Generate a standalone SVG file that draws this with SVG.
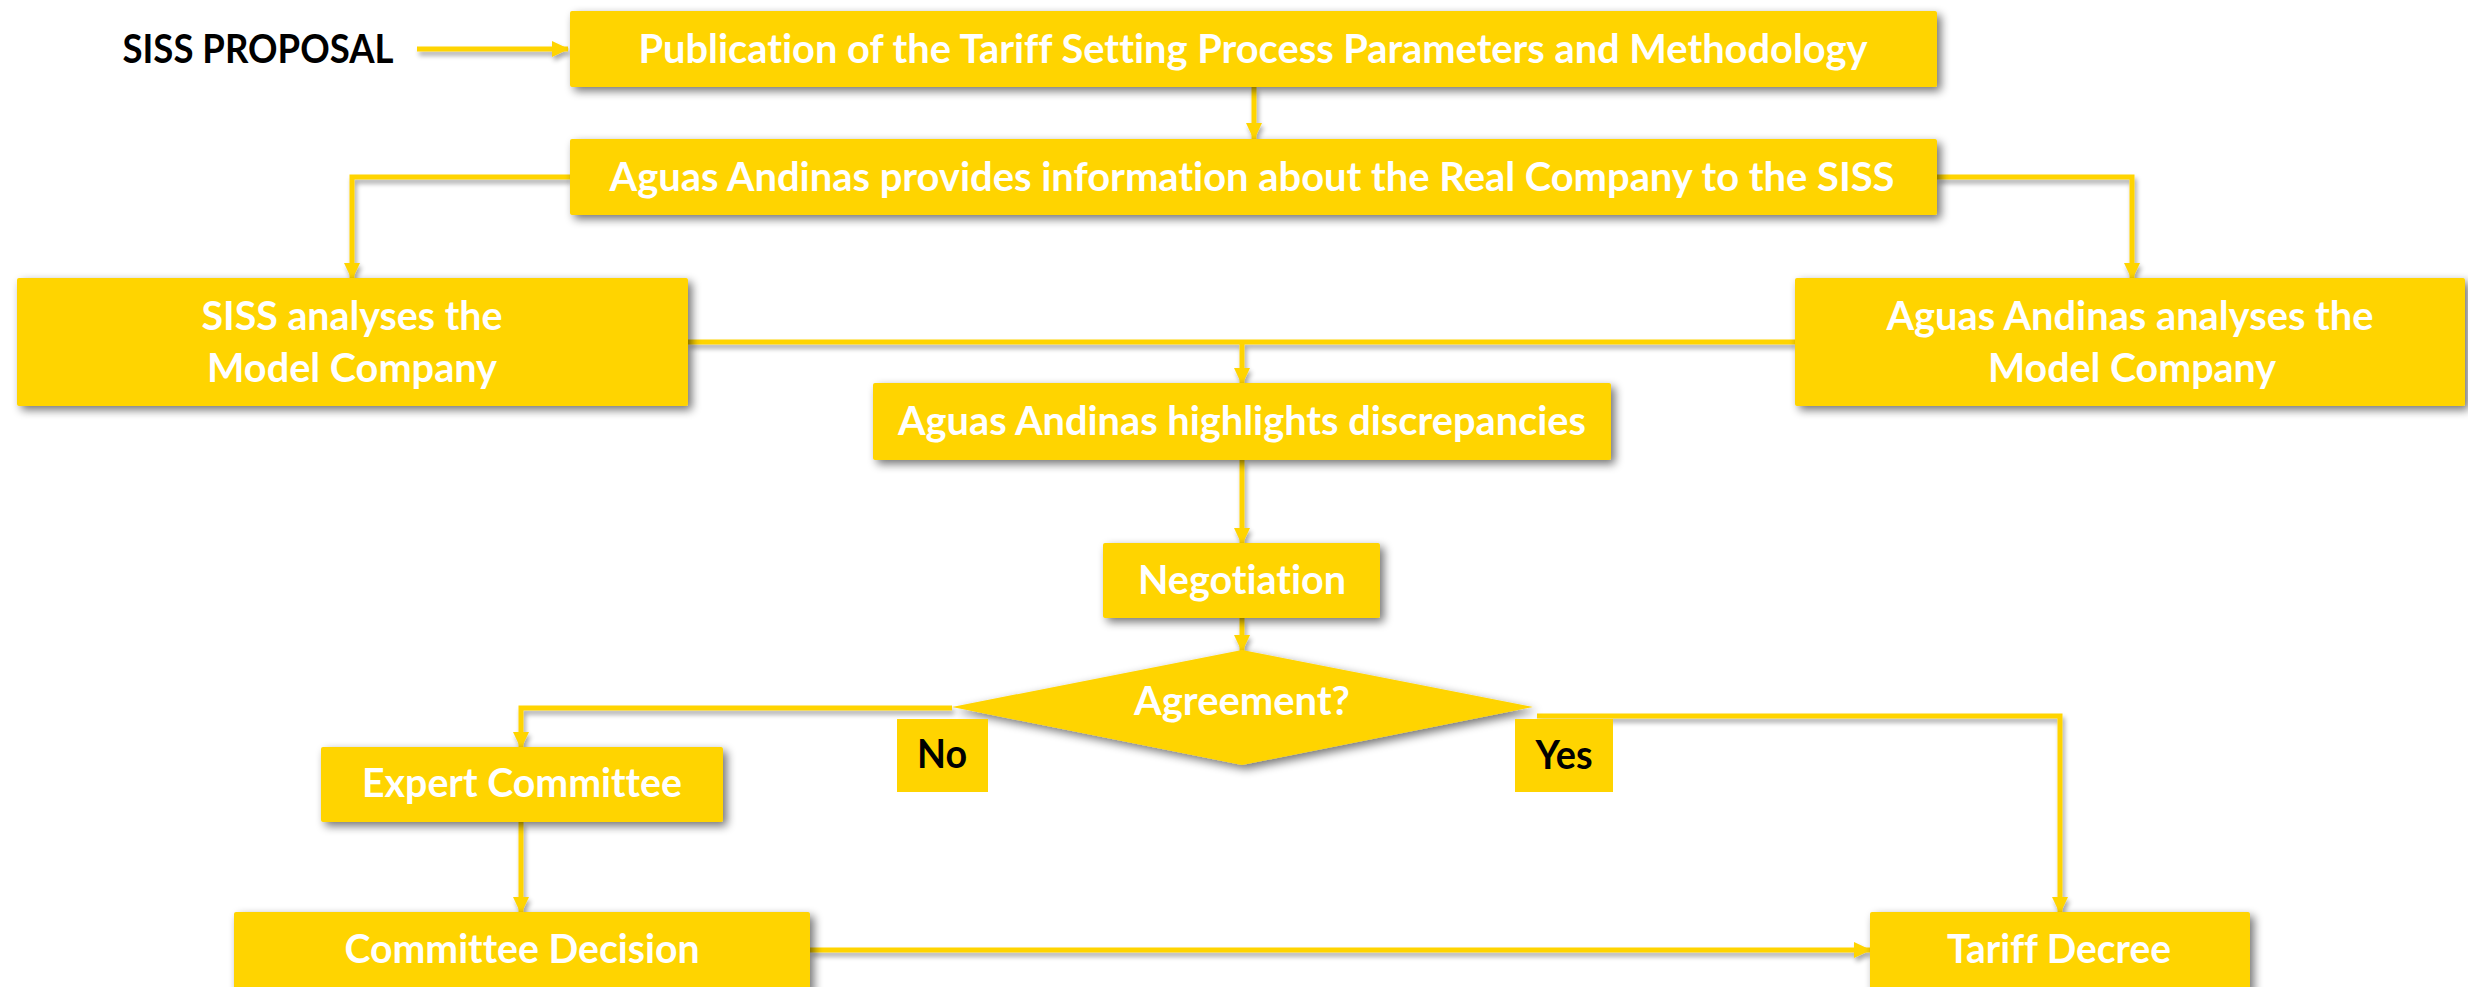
<svg xmlns="http://www.w3.org/2000/svg" width="2468" height="987" viewBox="0 0 2468 987">
<defs>
<style>
.box{fill:#FFD400;filter:url(#sh)}
.lbl{fill:#FFD400}
.t{font-family:Lato,"Open Sans","Liberation Sans",sans-serif;font-weight:bold;font-size:40px;fill:#FFFFFF;text-anchor:middle;font-variant-ligatures:none}
.k{font-family:Lato,"Open Sans","Liberation Sans",sans-serif;font-weight:bold;font-size:40px;fill:#000000;text-anchor:middle;font-variant-ligatures:none}
.c{fill:none;stroke:#FFD400;stroke-width:5}
</style>
<filter id="sh" x="-10%" y="-30%" width="120%" height="160%">
<feGaussianBlur in="SourceAlpha" stdDeviation="5"/>
<feOffset dx="4" dy="4" result="b"/>
<feComponentTransfer><feFuncA type="linear" slope="0.55"/></feComponentTransfer>
<feMerge><feMergeNode/><feMergeNode in="SourceGraphic"/></feMerge>
</filter>
<filter id="shl" x="-5%" y="-5%" width="110%" height="110%">
<feGaussianBlur in="SourceAlpha" stdDeviation="2.5"/>
<feOffset dx="2" dy="4" result="b"/>
<feComponentTransfer><feFuncA type="linear" slope="0.35"/></feComponentTransfer>
<feMerge><feMergeNode/><feMergeNode in="SourceGraphic"/></feMerge>
</filter>
<marker id="ah" markerUnits="userSpaceOnUse" markerWidth="17" markerHeight="16" refX="16" refY="8" orient="auto">
<path d="M0,0 L17,8 L0,16 z" fill="#FFD400"/>
</marker>
</defs>
<rect width="2468" height="987" fill="#FFFFFF"/>

<g id="connectors" filter="url(#shl)">
<path class="c" d="M417,49 H568" marker-end="url(#ah)"/>
<path class="c" d="M1254,87 V139" marker-end="url(#ah)"/>
<path class="c" d="M570,177 H352 V279" marker-end="url(#ah)"/>
<path class="c" d="M1937,177 H2132 V279" marker-end="url(#ah)"/>
<path class="c" d="M688,342 H1795"/>
<path class="c" d="M1242,342 V384" marker-end="url(#ah)"/>
<path class="c" d="M1242,460 V544" marker-end="url(#ah)"/>
<path class="c" d="M1242,618 V651" marker-end="url(#ah)"/>
<path class="c" d="M952,708 H521 V748" marker-end="url(#ah)"/>
<path class="c" d="M1537,716 H2060 V913" marker-end="url(#ah)"/>
<path class="c" d="M521,822 V913" marker-end="url(#ah)"/>
<path class="c" d="M810,950 H1870" marker-end="url(#ah)"/>
</g>

<g id="siss-proposal">
<text class="k" x="258" y="63" textLength="271" lengthAdjust="spacingAndGlyphs">SISS PROPOSAL</text>
</g>
<g id="publication">
<rect class="box" x="570" y="11" width="1367" height="76" rx="2"/>
<text class="t" x="1253" y="63" textLength="1229" lengthAdjust="spacingAndGlyphs">Publication of the Tariff Setting Process Parameters and Methodology</text>
</g>
<g id="provides-info">
<rect class="box" x="570" y="139" width="1367" height="76" rx="2"/>
<text class="t" x="1252" y="191" textLength="1285" lengthAdjust="spacingAndGlyphs">Aguas Andinas provides information about the Real Company to the SISS</text>
</g>
<g id="siss-analyses">
<rect class="box" x="17" y="278" width="671" height="128" rx="2"/>
<text class="t" x="352" y="330" textLength="301" lengthAdjust="spacingAndGlyphs">SISS analyses the</text>
<text class="t" x="352" y="382" textLength="290" lengthAdjust="spacingAndGlyphs">Model Company</text>
</g>
<g id="aa-analyses">
<rect class="box" x="1795" y="278" width="670" height="128" rx="2"/>
<text class="t" x="2130" y="330" textLength="487" lengthAdjust="spacingAndGlyphs">Aguas Andinas analyses the</text>
<text class="t" x="2132" y="382" textLength="288" lengthAdjust="spacingAndGlyphs">Model Company</text>
</g>
<g id="highlights">
<rect class="box" x="873" y="383" width="738" height="77" rx="2"/>
<text class="t" x="1242" y="435" textLength="688" lengthAdjust="spacingAndGlyphs">Aguas Andinas highlights discrepancies</text>
</g>
<g id="negotiation">
<rect class="box" x="1103" y="543" width="277" height="75" rx="2"/>
<text class="t" x="1242" y="594" textLength="208" lengthAdjust="spacingAndGlyphs">Negotiation</text>
</g>
<g id="agreement">
<polygon class="box" points="1242,650 1533,707 1242,765 952,707"/>
<text class="t" x="1242" y="715" textLength="216" lengthAdjust="spacingAndGlyphs">Agreement?</text>
</g>
<g id="label-no">
<rect class="lbl" x="897" y="719" width="91" height="73"/>
<text class="k" x="942" y="768" textLength="50" lengthAdjust="spacingAndGlyphs">No</text>
</g>
<g id="label-yes">
<rect class="lbl" x="1515" y="719" width="98" height="73"/>
<text class="k" x="1564" y="769" textLength="57" lengthAdjust="spacingAndGlyphs">Yes</text>
</g>
<g id="expert-committee">
<rect class="box" x="321" y="747" width="402" height="75" rx="2"/>
<text class="t" x="522" y="797" textLength="320" lengthAdjust="spacingAndGlyphs">Expert Committee</text>
</g>
<g id="committee-decision">
<rect class="box" x="234" y="912" width="576" height="80" rx="2"/>
<text class="t" x="522" y="963" textLength="355" lengthAdjust="spacingAndGlyphs">Committee Decision</text>
</g>
<g id="tariff-decree">
<rect class="box" x="1870" y="912" width="380" height="80" rx="2"/>
<text class="t" x="2059" y="963" textLength="224" lengthAdjust="spacingAndGlyphs">Tariff Decree</text>
</g>
</svg>
